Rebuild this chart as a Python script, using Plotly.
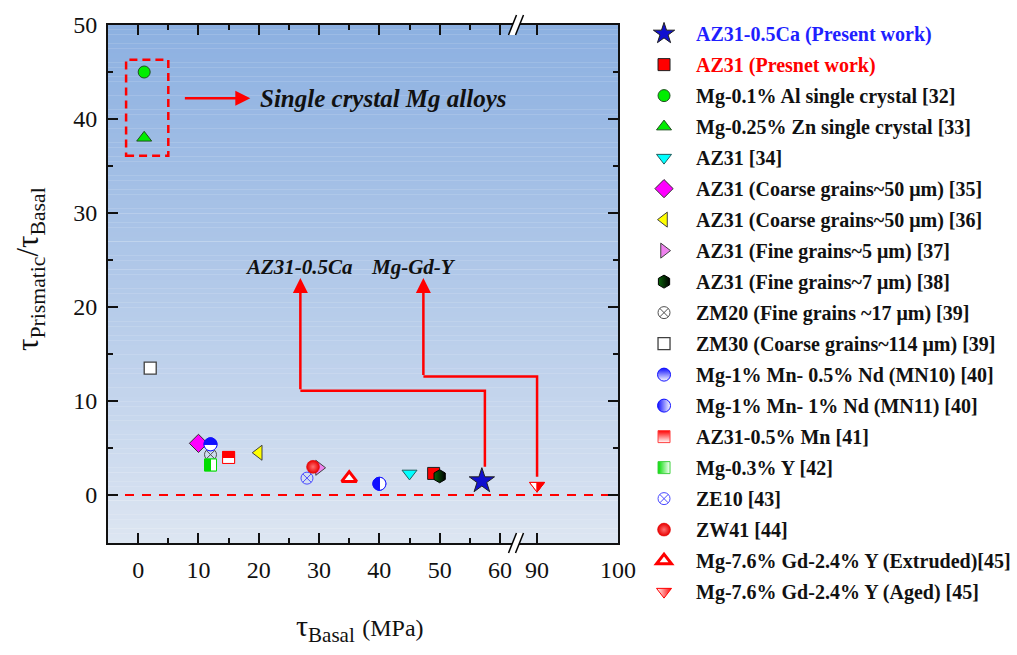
import math
import plotly.graph_objects as go

FONT = "Liberation Serif"

# ---------------- data ----------------
series_names = [
    "AZ31-0.5Ca (Present work)",
    "AZ31 (Presnet work)",
    "Mg-0.1% Al single crystal [32]",
    "Mg-0.25% Zn single crystal [33]",
    "AZ31 [34]",
    "AZ31 (Coarse grains~50 μm) [35]",
    "AZ31 (Coarse grains~50 μm) [36]",
    "AZ31 (Fine grains~5 μm) [37]",
    "AZ31 (Fine grains~7 μm) [38]",
    "ZM20 (Fine grains ~17 μm) [39]",
    "ZM30 (Coarse grains~114 μm) [39]",
    "Mg-1% Mn- 0.5% Nd (MN10) [40]",
    "Mg-1% Mn- 1% Nd (MN11) [40]",
    "AZ31-0.5% Mn [41]",
    "Mg-0.3% Y [42]",
    "ZE10 [43]",
    "ZW41 [44]",
    "Mg-7.6% Gd-2.4% Y (Extruded)[45]",
    "Mg-7.6% Gd-2.4% Y (Aged) [45]",
]
tau_basal = [57, 49, 1, 1, 45, 10, 20, 30, 50, 12, 2, 12, 40, 15, 12, 28, 29, 35, 90]
tau_ratio = [1.5, 2.3, 45, 38, 2.3, 5.5, 4.5, 2.9, 2.0, 4.3, 13.5, 5.4, 1.2, 4.0, 3.2, 1.8, 3.0, 1.8, 1.0]

x_ticks_low = [0, 10, 20, 30, 40, 50, 60]
x_ticks_high = [90, 100]

# ---------------- styles ----------------
name_colors = {0: "#1f1fff", 1: "#ff0000"}

marker_styles = [
    dict(symbol="star", size=19, color="#1010d0", line=dict(color="#202020", width=1)),
    dict(symbol="square", size=12, color="#ff0000", line=dict(color="#202020", width=1)),
    dict(symbol="circle", size=12, color="#00ee00", line=dict(color="#205020", width=1)),
    dict(symbol="triangle-up", size=13, color="#00ee00", line=dict(color="#205020", width=1)),
    dict(symbol="triangle-down", size=13, color="#00ffff", line=dict(color="#206060", width=1)),
    dict(symbol="diamond", size=14, color="#ff00ff", line=dict(color="#303030", width=1)),
    dict(symbol="triangle-left", size=13, color="#ffff00", line=dict(color="#404040", width=1)),
    dict(symbol="triangle-right", size=13, color="#ee82ee", line=dict(color="#404040", width=1)),
    dict(symbol="hexagon", size=13, color="#0a640a", line=dict(color="#000000", width=1),
         gradient=dict(type="horizontal", color="#000000")),
    dict(symbol="circle-x-open", size=12, color="#505050", line=dict(color="#505050", width=1)),
    dict(symbol="square", size=12, color="#ffffff", line=dict(color="#404040", width=1.3)),
    dict(symbol="circle", size=13, color="#1010ff", line=dict(color="#1010ff", width=1),
         gradient=dict(type="vertical", color="#ffffff")),
    dict(symbol="circle", size=13, color="#1010ff", line=dict(color="#1010ff", width=1),
         gradient=dict(type="horizontal", color="#ffffff")),
    dict(symbol="square", size=12, color="#ff0000", line=dict(color="#ff4040", width=1),
         gradient=dict(type="vertical", color="#ffffff")),
    dict(symbol="square", size=12, color="#00dd00", line=dict(color="#40d040", width=1),
         gradient=dict(type="horizontal", color="#ffffff")),
    dict(symbol="circle-x-open", size=12, color="#4a4aff", line=dict(color="#4a4aff", width=1)),
    dict(symbol="circle", size=13, color="#e80000", line=dict(color="#e00000", width=0.5),
         gradient=dict(type="radial", color="#ff7070")),
    dict(symbol="triangle-up", size=13, color="#ffffff", line=dict(color="#ff0000", width=3)),
    dict(symbol="triangle-down", size=13, color="#ffffff", line=dict(color="#ff0000", width=1),
         gradient=dict(type="horizontal", color="#ff0000")),
]

# two-tone fills drawn crisply over the plotted markers: (index, shape, filled side, colour)
two_tone = [
    (11, "circle", "top", "#1010ff"),
    (12, "circle", "left", "#1010ff"),
    (13, "square", "top", "#ff0000"),
    (14, "square", "left", "#00dd00"),
    (18, "tri_down", "right", "#ff0000"),
]

# broken x axis: low segment and high segment
X1_RANGE = [-5, 62.66]
X2_RANGE = [87.4, 100]
SPLIT = 0.8
Y_RANGE = [-5.1, 50]


def axis_of(x):
    return ("x", "y") if x <= X1_RANGE[1] else ("x2", "y2")


def to_paper(x):
    if x <= X1_RANGE[1]:
        return SPLIT * (x - X1_RANGE[0]) / (X1_RANGE[1] - X1_RANGE[0])
    return SPLIT + (1 - SPLIT) * (x - X2_RANGE[0]) / (X2_RANGE[1] - X2_RANGE[0])


fig = go.Figure()

for i, name in enumerate(series_names):
    label = f"<b>{name}</b>"
    if i in name_colors:
        label = f"<span style='color:{name_colors[i]}'>{label}</span>"
    xa, ya = axis_of(tau_basal[i])
    fig.add_trace(go.Scatter(
        x=[tau_basal[i]], y=[tau_ratio[i]], mode="markers",
        name=label, legendgroup=f"g{i}",
        marker=marker_styles[i],
        xaxis=xa, yaxis=ya,
    ))

shapes = []

# vertical gradient background of the plotting area
N_BANDS = 110
top_rgb = (140, 176, 225)
bot_rgb = (222, 230, 242)
for k in range(N_BANDS):
    t = (k + 0.5) / N_BANDS  # 0 bottom -> 1 top
    w = t ** 0.9
    c = tuple(round(bot_rgb[j] + (top_rgb[j] - bot_rgb[j]) * w) for j in range(3))
    shapes.append(dict(type="rect", xref="paper", yref="paper", x0=0, x1=1,
                       y0=k / N_BANDS, y1=min(1, (k + 1.05) / N_BANDS),
                       fillcolor=f"rgb{c}", line=dict(width=0), layer="below"))

# reference line at zero
shapes.append(dict(type="line", xref="paper", yref="y", x0=0, x1=1, y0=0, y1=0,
                   line=dict(color="#ff0000", width=2, dash="9px,8px"), layer="below"))

# dashed box around the single-crystal results
shapes.append(dict(type="rect", xref="x", yref="y", x0=-2, x1=5, y0=36.1, y1=46.3,
                   line=dict(color="#ff0000", width=2.5, dash="8px,5px")))

RED = "#ff0000"


def poly(points):
    return "M " + " L ".join(f"{px:.2f},{py:.2f}" for px, py in points) + " Z"


def half_paths(kind, side, size):
    r = size / 2
    if kind == "circle":
        n = 14
        a0 = 0 if side == "top" else math.pi / 2
        filled = [(r * math.cos(a0 + math.pi * s / n), r * math.sin(a0 + math.pi * s / n)) for s in range(n + 1)]
        empty = [(r * math.cos(a0 + math.pi + math.pi * s / n), r * math.sin(a0 + math.pi + math.pi * s / n)) for s in range(n + 1)]
        return poly(filled), poly(empty)
    if kind == "square":
        if side == "top":
            return poly([(-r, 0), (r, 0), (r, r), (-r, r)]), poly([(-r, -r), (r, -r), (r, 0), (-r, 0)])
        return poly([(-r, -r), (0, -r), (0, r), (-r, r)]), poly([(0, -r), (r, -r), (r, r), (0, r)])
    # downward triangle split vertically
    rt = r * 2 / math.sqrt(3)
    r2 = r / 2
    right = poly([(0, r2), (rt, r2), (0, -r)])
    left = poly([(-rt, r2), (0, r2), (0, -r)])
    return right, left


for idx, kind, side, col in two_tone:
    size = marker_styles[idx]["size"]
    filled, empty = half_paths(kind, side, size)
    xa, ya = axis_of(tau_basal[idx])
    for path, fill in ((empty, "#ffffff"), (filled, col)):
        shapes.append(dict(type="path", path=path, xref=xa, yref=ya,
                           xsizemode="pixel", ysizemode="pixel",
                           xanchor=tau_basal[idx], yanchor=tau_ratio[idx],
                           fillcolor=fill, line=dict(color=col, width=1), layer="above"))

# leader lines from the data points to their labels
ca_x, ca_y = tau_basal[0], tau_ratio[0]
gd_x, gd_y = tau_basal[18], tau_ratio[18]
ca_turn_y, ca_label_x = 11.1, 26.9
gd_turn_y, gd_label_x = 12.6, 47.3
arrow_tip_y = 23.1

shapes.append(dict(type="path", xref="paper", yref="y", layer="above",
                   path=(f"M {to_paper(ca_x + 0.5):.4f},{ca_y + 1.5} L {to_paper(ca_x + 0.5):.4f},{ca_turn_y} "
                         f"L {to_paper(ca_label_x):.4f},{ca_turn_y}"),
                   line=dict(color=RED, width=2.5)))
shapes.append(dict(type="path", xref="paper", yref="y", layer="above",
                   path=(f"M {to_paper(gd_x):.4f},{gd_y + 0.95} L {to_paper(gd_x):.4f},{gd_turn_y} "
                         f"L {to_paper(gd_label_x):.4f},{gd_turn_y}"),
                   line=dict(color=RED, width=2.5)))

# axis-break marks on the top and bottom frame
for y_anchor in (0, 1):
    shapes.append(dict(type="path", xref="paper", yref="paper", xsizemode="pixel", ysizemode="pixel",
                       xanchor=SPLIT, yanchor=y_anchor, layer="above",
                       path=poly([(-7.5, -10), (-0.5, -10), (7.5, 10), (0.5, 10)]),
                       fillcolor="#ffffff", line=dict(width=0)))
    for dx in (-7.5, -0.5):
        shapes.append(dict(type="line", xref="paper", yref="paper", xsizemode="pixel", ysizemode="pixel",
                           xanchor=SPLIT, yanchor=y_anchor, layer="above",
                           x0=dx, y0=-10, x1=dx + 8, y1=10,
                           line=dict(color="#000000", width=1.5)))

annotations = []


def arrow(x_tail, y_tail, x_tip, y_tip):
    return dict(x=x_tip, y=y_tip, ax=x_tail, ay=y_tail, xref="x", yref="y", axref="x", ayref="y",
                text="", showarrow=True, arrowhead=2, arrowsize=1.2, arrowwidth=2.5,
                arrowcolor=RED, standoff=0)


annotations.append(arrow(7.5, 42.2, 18.6, 42.2))
annotations.append(arrow(ca_label_x, ca_turn_y, ca_label_x, arrow_tip_y))
annotations.append(arrow(gd_label_x, gd_turn_y, gd_label_x, arrow_tip_y))

annotations.append(dict(x=19.9, y=42.2, xref="x", yref="y", xanchor="left", yanchor="middle",
                        text="<b><i>Single crystal Mg alloys</i></b>", showarrow=False,
                        font=dict(family=FONT, size=25, color="#111111")))
annotations.append(dict(x=26.7, y=24.3, xref="x", yref="y", xanchor="center", yanchor="middle",
                        text="<b><i>AZ31-0.5Ca</i></b>", showarrow=False,
                        font=dict(family=FONT, size=21, color="#111111")))
annotations.append(dict(x=45.6, y=24.3, xref="x", yref="y", xanchor="center", yanchor="middle",
                        text="<b><i>Mg-Gd-Y</i></b>", showarrow=False,
                        font=dict(family=FONT, size=21, color="#111111")))

# axis titles
annotations.append(dict(x=0.494, y=-0.165, xref="paper", yref="paper", xanchor="center", yanchor="middle",
                        text="τ<sub>Basal</sub> <span style='font-size:24px'>(MPa)</span>",
                        showarrow=False, font=dict(family=FONT, size=30, color="#111111")))
annotations.append(dict(x=-0.152, y=0.53, xref="paper", yref="paper", xanchor="center", yanchor="middle",
                        textangle=-90,
                        text="τ<sub>Prismatic</sub>/τ<sub>Basal</sub>",
                        showarrow=False, font=dict(family=FONT, size=31, color="#111111")))

tick_font = dict(family=FONT, size=24, color="#111111")
INK = "#111111"
axis_common = dict(showline=True, linewidth=2, linecolor=INK,
                   ticks="inside", ticklen=10, tickwidth=2, tickcolor=INK,
                   showgrid=False, zeroline=False, tickfont=tick_font)
minor_y = dict(dtick=5, tick0=0, ticklen=5, ticks="inside", tickwidth=2, tickcolor=INK)

fig.update_layout(
    width=1017, height=655,
    margin=dict(l=108, r=399, t=25, b=112, autoexpand=False),
    paper_bgcolor="#ffffff",
    plot_bgcolor="rgba(0,0,0,0)",
    font=dict(family=FONT, color=INK),
    showlegend=True,
    legend=dict(x=1.0275, y=1.021, xanchor="left", yanchor="top",
                font=dict(family=FONT, size=20, color=INK),
                bgcolor="rgba(0,0,0,0)", tracegroupgap=2, itemwidth=54, maxheight=700),
    xaxis=dict(domain=[0, SPLIT], range=X1_RANGE, tickvals=x_ticks_low, anchor="y", mirror="ticks",
               minor=dict(dtick=5, tick0=0, ticklen=5, ticks="inside", tickwidth=2, tickcolor=INK),
               ticklabelstandoff=4, **axis_common),
    xaxis2=dict(domain=[SPLIT, 1], range=X2_RANGE, tickvals=x_ticks_high, anchor="y2", mirror="ticks",
                ticklabelstandoff=4, **axis_common),
    yaxis=dict(range=Y_RANGE, tick0=0, dtick=10, anchor="x", side="left",
               minor=minor_y, ticklabelstandoff=4, **axis_common),
    yaxis2=dict(range=Y_RANGE, tick0=0, dtick=10, anchor="x2", side="right", matches="y",
                showticklabels=False, minor=minor_y, **axis_common),
    shapes=shapes,
    annotations=annotations,
)

fig.write_html("out.html")
